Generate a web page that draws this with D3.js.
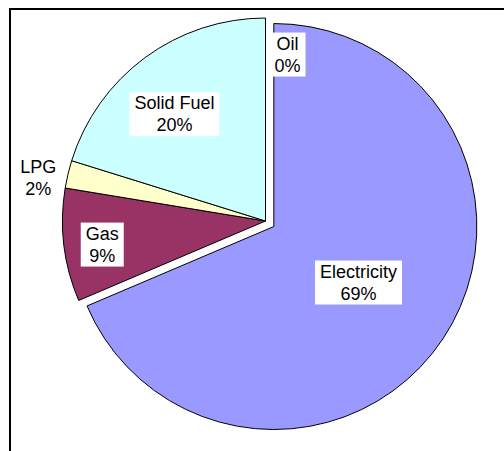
<!DOCTYPE html>
<html><head><meta charset="utf-8">
<script src="https://cdn.jsdelivr.net/npm/d3@7"></script>
<style>html,body{margin:0;padding:0;background:#fff;overflow:hidden}</style>
</head><body><svg id="c" width="504" height="451"></svg>
<script>
// ---- data ----
const categories = ["Electricity", "Gas", "LPG", "Solid Fuel", "Oil"];
const values = [68.6, 9.0, 2.2, 20.2, 0.0];
// ---- styles / layout ----
const colors = ["#9999FF", "#993366", "#FFFFCC", "#CCFFFF", "#660066"];
const explode = [10, 0, 0, 0, 0];
const labelLayout = [
  {r: 0.50, dx: 0, dy: 0},
  {r: 0.81, dx: 0, dy: 4},
  {r: 1.13, dx: -4, dy: 10},
  {r: 0.69, dx: -8, dy: 6},
  {r: 0.82, dx: 22, dy: 0}
];
const boxed = [true, true, false, true, true];

const W = 504, H = 451;
const cx = 265.5, cy = 221, R = 203;
const svg = d3.select("#c");

// frame
svg.append("path").attr("d", `M10,${H} V9 H${W}`)
  .attr("fill", "none").attr("stroke", "#000").attr("stroke-width", 2);

const total = d3.sum(values);
const pie = d3.pie().sort(null).value(d => d.v).startAngle(0).endAngle(2 * Math.PI);
const data = categories.map((c, i) => ({c, v: values[i], i}));
const arcs = pie(data);
const arc = d3.arc().innerRadius(0).outerRadius(R);

const g = svg.append("g").attr("transform", `translate(${cx},${cy})`);

function offset(a, d) {
  const m = (a.startAngle + a.endAngle) / 2;
  return [d * Math.sin(m), -d * Math.cos(m)];
}

g.selectAll("path.slice").data(arcs.filter(a => a.data.v > 0)).join("path")
  .attr("class", "slice")
  .attr("d", arc)
  .attr("transform", a => { const o = offset(a, explode[a.data.i]); return `translate(${o[0]},${o[1]})`; })
  .attr("fill", a => colors[a.data.i])
  .attr("stroke", "#000").attr("stroke-width", 1).attr("stroke-linejoin", "miter");

const lineH = 22;
arcs.forEach(a => {
  const i = a.data.i, L = labelLayout[i];
  const o = offset(a, explode[i]);
  const m = (a.startAngle + a.endAngle) / 2;
  const x = o[0] + L.r * R * Math.sin(m) + L.dx;
  const y = o[1] - L.r * R * Math.cos(m) + L.dy;
  const lg = g.append("g");
  const t = lg.append("text")
    .attr("text-anchor", "middle")
    .attr("font-family", "Arial, 'Liberation Sans', sans-serif")
    .attr("font-size", 18).attr("fill", "#000");
  t.append("tspan").attr("x", x).attr("y", y - 5).text(a.data.c);
  t.append("tspan").attr("x", x).attr("y", y - 5 + lineH).text(Math.round(a.data.v / total * 100) + "%");
  if (boxed[i]) {
    const b = t.node().getBBox();
    lg.insert("rect", "text").attr("x", b.x - 5).attr("y", b.y - 1)
      .attr("width", b.width + 10).attr("height", b.height + 2).attr("fill", "#fff");
  }
});
</script></body></html>
